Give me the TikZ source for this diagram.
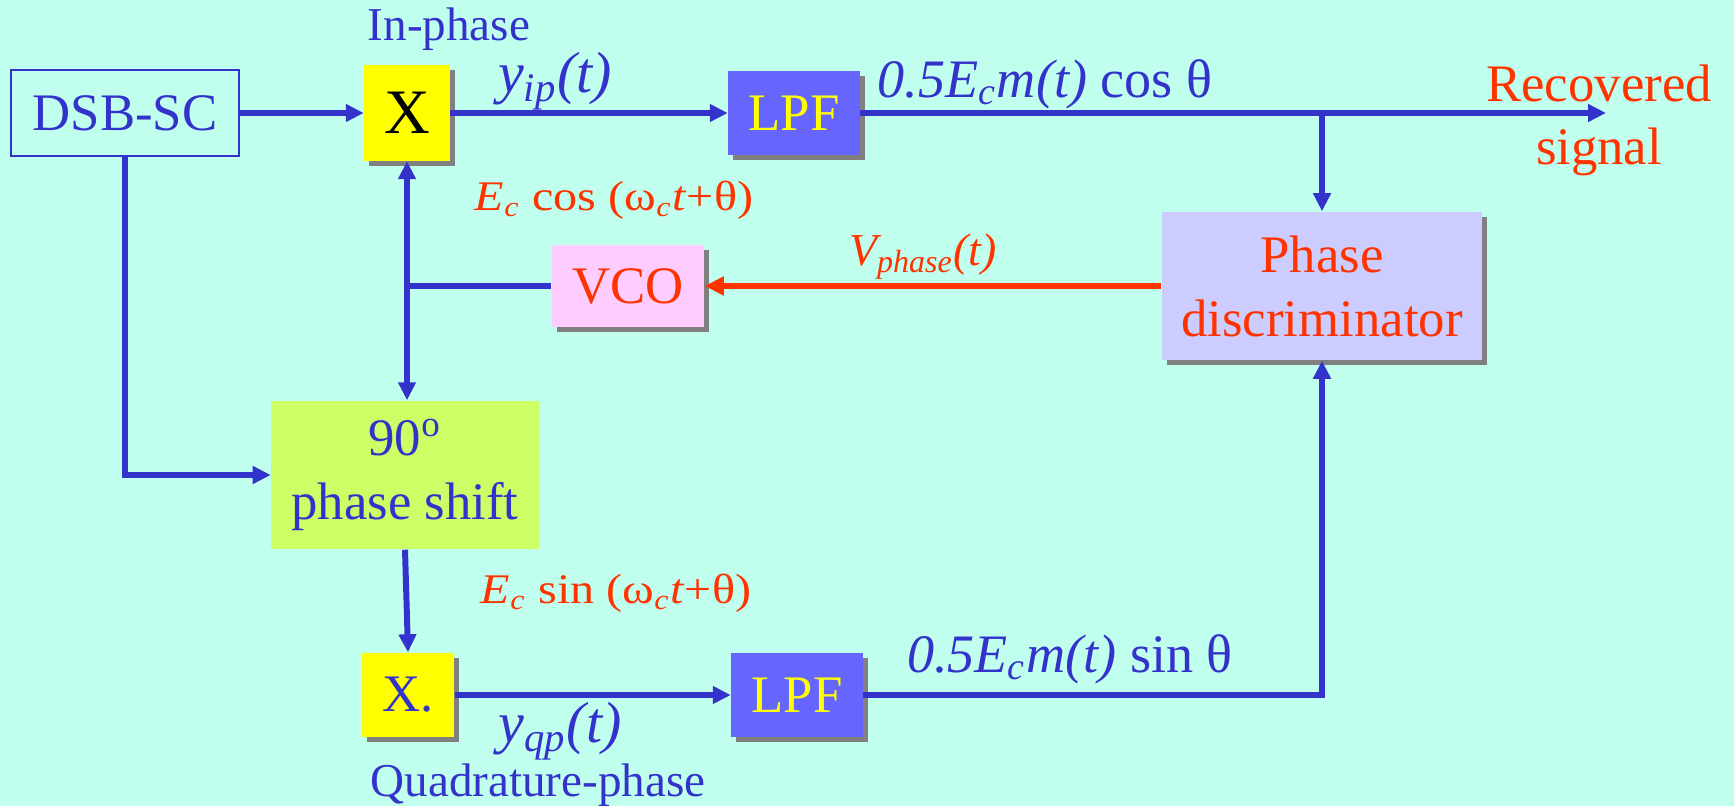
\documentclass[tikz,border=0pt]{standalone}
\usepackage{fontspec}
\setmainfont{Liberation Serif}
\usepackage{xcolor}
\usepackage{tikz}
\usetikzlibrary{arrows.meta,shadows}
\definecolor{bgc}{HTML}{C0FFEE}
\definecolor{linec}{HTML}{3333CC}
\definecolor{redc}{HTML}{FF3300}
\definecolor{mixc}{HTML}{FFFF00}
\definecolor{lpfc}{HTML}{6666FF}
\definecolor{pdc}{HTML}{CCCCFF}
\definecolor{vcoc}{HTML}{FFCCFF}
\definecolor{psc}{HTML}{CCFF66}
\definecolor{shadc}{HTML}{808080}

\begin{document}
\begin{tikzpicture}[x=0.01cm,y=-0.01cm,
  wire/.style={linec,line width=1.7pt},
  sig/.style={wire,-{Triangle[length=0.18cm,width=0.17cm]}},
  box/.style={inner sep=0pt,align=center,font=\fontsize{15}{18.2}\selectfont},
  shad/.style={drop shadow={shadow xshift=0.05cm,shadow yshift=-0.05cm,fill=shadc,opacity=1}},
  lbl/.style={anchor=base,inner sep=0pt}]
  \fill[bgc] (0,0) rectangle (1734,806);
  \useasboundingbox (0,0) rectangle (1734,806);
  % blocks
  \node[box,draw=linec,line width=0.7pt,text=linec,minimum width=2.28cm,minimum height=0.86cm] (dsb) at (125,113) {DSB-SC};
  \node[box,shad,fill=mixc,minimum width=0.85cm,minimum height=0.95cm,font=\fontsize{18}{20}\selectfont] (mixi) at (407,113) {X};
  \node[box,shad,fill=lpfc,text=mixc,minimum width=1.31cm,minimum height=0.84cm] (lpfi) at (794,113) {LPF};
  \node[box,shad,fill=pdc,text=redc,minimum width=3.2cm,minimum height=1.48cm] (pd) at (1322,286) {Phase\\discriminator};
  \node[box,shad,fill=vcoc,text=redc,minimum width=1.52cm,minimum height=0.82cm] (vco) at (628,286) {VCO};
  \node[box,fill=psc,text=linec,minimum width=2.67cm,minimum height=1.48cm] (ps) at (405,475) {90\textsuperscript{o}\\phase shift};
  \node[box,shad,fill=mixc,text=linec,minimum width=0.92cm,minimum height=0.84cm] (mixq) at (408,695) {X.};
  \node[box,shad,fill=lpfc,text=mixc,minimum width=1.31cm,minimum height=0.84cm] (lpfq) at (797,695) {LPF};
  \coordinate (out) at (1606,113);
  \coordinate (tj) at (pd.north |- lpfi.east);
  \coordinate (vj) at (mixi.south |- vco.west);
  % connectors
  \draw[sig] (dsb.east) -- (mixi.west);
  \draw[sig] (mixi.east) -- (lpfi.west);
  \draw[sig] (lpfi.east) -- (out);
  \draw[sig] (tj) -- (pd.north);
  \draw[redc,line width=1.8pt,-{Triangle[length=0.19cm,width=0.18cm]}] (pd.west) -- (vco.east);
  \draw[wire] (vco.west) -- (vj);
  \draw[sig] (vj) -- (mixi.south);
  \draw[sig] (vj) -- (vj |- ps.north);
  \draw[sig] (dsb.south) |- (ps.west);
  \draw[sig] (ps.south) -- (mixq.north);
  \draw[sig] (mixq.east) -- (lpfq.west);
  \draw[sig] (lpfq.east) -| (pd.south);
  % labels
  \node[lbl,text=linec,font=\fontsize{13.4}{16}\selectfont] (inph) at (449,40) {In-phase};
  \node[lbl,text=linec,font=\fontsize{16.5}{20}\selectfont] (yip) at (555,92) {\textit{y\textsubscript{ip}(t)}};
  \node[lbl,text=linec,font=\fontsize{15.4}{18}\selectfont] (cosl) at (1045,97) {\textit{0.5E\textsubscript{c}m(t)} cos θ};
  \node[anchor=north,inner sep=0pt,align=center,text=redc,font=\fontsize{15}{17.9}\selectfont] (rec) at (1599,64) {Recovered\\signal};
  \node[lbl,text=redc,font=\fontsize{12}{14}\selectfont] (vcol) at (614,210) {\scalebox{1.14}[1]{\textit{E}\textsubscript{\textit{c}} cos (ω\textsubscript{\textit{c}}\textit{t}+θ)}};
  \node[lbl,text=redc,font=\fontsize{13}{15}\selectfont] (vph) at (923,265) {\textit{V\textsubscript{phase}(t)}};
  \node[lbl,text=redc,font=\fontsize{12}{14}\selectfont] (sinl) at (616,603) {\scalebox{1.14}[1]{\textit{E}\textsubscript{\textit{c}} sin (ω\textsubscript{\textit{c}}\textit{t}+θ)}};
  \node[lbl,text=linec,font=\fontsize{16.5}{20}\selectfont] (yqp) at (560,742) {\textit{y\textsubscript{qp}(t)}};
  \node[lbl,text=linec,font=\fontsize{13.4}{16}\selectfont] (quad) at (538,796) {Quadrature-phase};
  \node[lbl,text=linec,font=\fontsize{15.4}{18}\selectfont] (sinq) at (1070,672) {\textit{0.5E\textsubscript{c}m(t)} sin θ};
\end{tikzpicture}
\end{document}
